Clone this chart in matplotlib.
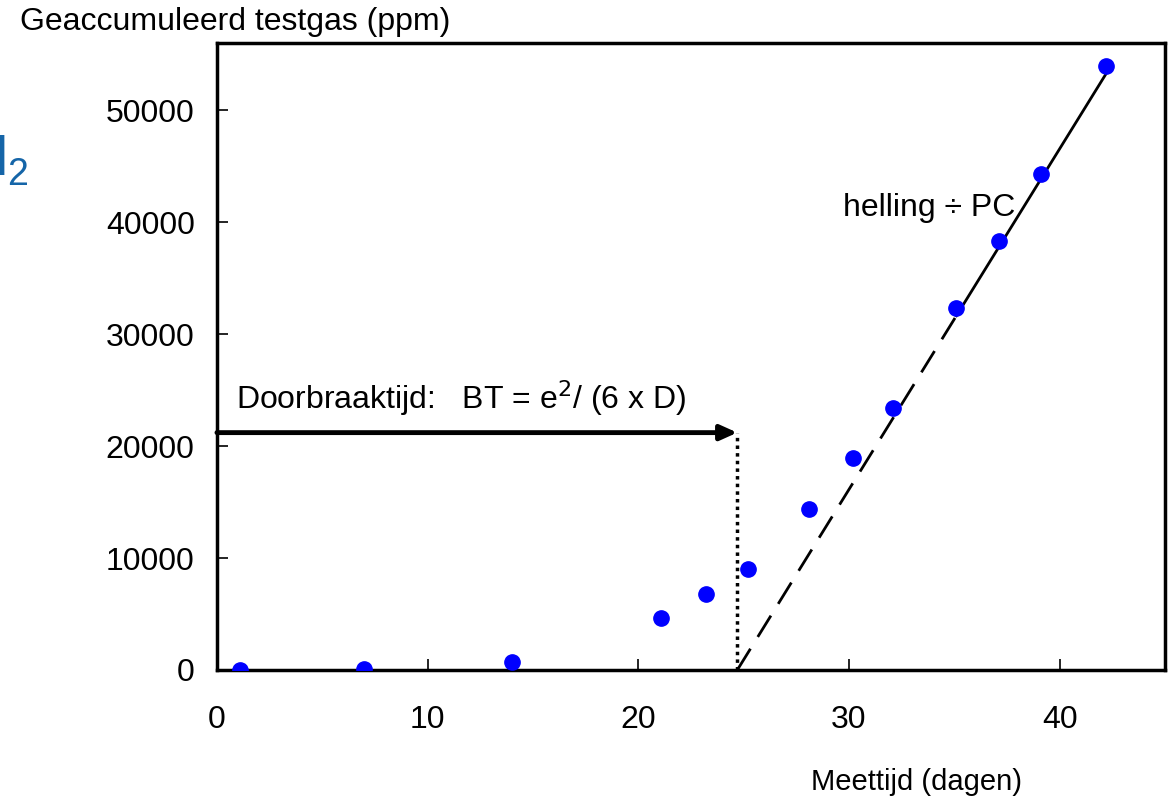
import matplotlib
matplotlib.use("Agg")
from matplotlib import pyplot as plt
import numpy as np

plt.rcParams['font.family'] = ['Liberation Sans', 'DejaVu Sans']

## meetpunten (dagen, ppm)
dagen = np.array([1.1, 7.0, 14.0, 21.1, 23.2, 25.2, 28.1, 30.2, 32.1, 35.1, 37.1, 39.1, 42.2])
ppm = np.array([0, 100, 700, 4650, 6800, 9000, 14400, 18900, 23400, 32300, 38300, 44300, 53900])

## lineaire fit over het laatste stuk
fit_start = 35.1
fit_end = 42.2
bt = 24.7          # doorbraaktijd
arrow_y = 21200

xticks = [0, 10, 20, 30, 40]
yticks = [0, 10000, 20000, 30000, 40000, 50000]

k = (53900 - 32300) / (fit_end - fit_start)

fig = plt.figure(figsize=(11.74, 8.02), dpi=100)
ax = fig.add_axes([0.1848, 0.1646, 0.8075, 0.7818])

## stippellijn (extrapolatie) en doorgetrokken fit
xd = np.array([bt, fit_start])
ax.plot(xd, k * (xd - bt), color='black', linestyle=(0, (9, 5)), linewidth=2, zorder=2)
xs = np.array([fit_start, fit_end])
ax.plot(xs, k * (xs - bt), color='black', linewidth=2, zorder=2)

## verticale puntlijn bij BT
ax.plot([bt, bt], [0, arrow_y], color='black', linestyle=(0, (1, 1.2)), linewidth=2.5, zorder=2)

## pijl
ax.annotate('', xy=(bt, arrow_y), xytext=(0, arrow_y),
            arrowprops=dict(arrowstyle='-|>,head_length=1.0,head_width=0.45',
                            color='black', lw=3.5, shrinkA=0, shrinkB=0))

ax.plot(dagen, ppm, 'o', color='#0000ff', markersize=11, zorder=3)

ax.text(0.9, 24300, 'Doorbraaktijd:   BT = e$^2$/ (6 x D)', fontsize=23, va='center')
ax.text(29.7, 41300, 'helling ÷ PC', fontsize=23, va='center')

ax.set_xlim(0, 45)
ax.set_ylim(0, 56000)
ax.set_xticks(xticks)
ax.set_yticks(yticks)
ax.tick_params(direction='in', length=8, width=1.2, labelsize=23)
ax.tick_params(axis='x', pad=25)
ax.tick_params(axis='y', pad=16)
for s in ax.spines.values():
    s.set_linewidth(2.5)

fig.text(0.017, 0.973, 'Geaccumuleerd testgas (ppm)', fontsize=23, va='center')
fig.text(0.781, 0.025, 'Meettijd (dagen)', fontsize=21, va='center', ha='center')

## afgesneden label links
fig.text(8 / 1174, 1 - 175 / 802, 'H', fontsize=42, color='#1565a8', ha='right', va='baseline')
fig.text(7 / 1174, 1 - 185 / 802, '2', fontsize=27, color='#1565a8', ha='left', va='baseline')

fig.savefig('out.png', dpi=100)
